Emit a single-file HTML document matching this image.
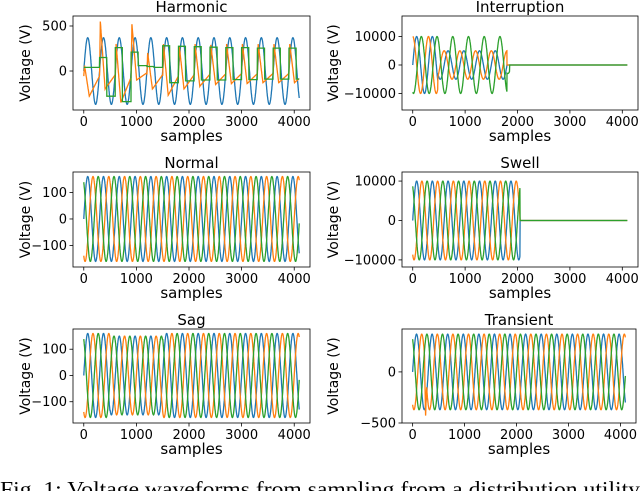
<!DOCTYPE html>
<html><head><meta charset="utf-8">
<style>
html,body{margin:0;padding:0;background:#fff;overflow:hidden;width:640px;height:491px;}
svg{display:block;}
text{font-family:"DejaVu Sans","Liberation Sans",sans-serif;fill:#000;}
.cap{font-family:"Liberation Serif",serif;font-size:21px;}
</style></head>
<body>
<svg id="fig" width="640" height="491" viewBox="0 0 640 491" xmlns="http://www.w3.org/2000/svg">
<text class="cap" x="0" y="496" textLength="640" lengthAdjust="spacingAndGlyphs">Fig. 1: Voltage waveforms from sampling from a distribution utility</text>
</svg>
<script>
// ---- data ----
const panelTitles = ["Harmonic","Interruption","Normal","Swell","Sag","Transient"];
const xTicks = [0,1000,2000,3000,4000];
const nSamples = 4096;
const period = 300;
const yLims = [[-433,611],[-15800,17200],[-181,177],[-11800,12300],[-181,177],[-500,420]];
const yTicks = [[0,500],[-10000,0,10000],[-100,0,100],[-10000,0,10000],[-100,0,100],[-500,0]];
const yTickLabels = [["0","500"],["\u221210000","0","10000"],["\u2212100","0","100"],["\u221210000","0","10000"],["\u2212100","0","100"],["\u2212500","0"]];
// amplitude segments [start, end, amplitude] per series: blue, orange, green
const normalAmps = [[[0,4096,160]],[[0,4096,160]],[[0,4096,160]]];
const sagAmps = [[[0,500,160],[500,1500,150],[1500,4096,160]],[[0,500,160],[500,1500,150],[1500,4096,160]],[[0,500,160],[500,1500,150],[1500,4096,160]]];
const swellAmps = [[[0,2048,10000]],[[0,2048,10000]],[[0,2048,10000]]];
const interAmps = [[[0,480,10000],[480,1800,5000]],[[0,480,10000],[480,1800,5000]],[[0,1800,10000],[1800,1850,3000]]];
const transAmps = [[[0,4096,370]],[[0,4096,370]],[[0,4096,370]]];
const transSpike = [250, -450];
const harmBlueAmp = 370;
// harmonic distorted phases: per cycle high/low levels
const harmGreenHi = [40,150,260,210,50,280,275,270,265,260,260,255,255,255];
const harmGreenLo = [40,-280,-340,60,40,-130,-110,-100,-100,-95,-95,-90,-90,-90];
const harmOrangePk = [60,550,300,520,200,300,280,300,290,300,300,300,300,300];
const harmOrangeLo = [-280,-200,-350,-100,-200,-270,-200,-170,-150,-140,-140,-130,-130,-130];
const colors = ["#1f77b4","#ff7f0e","#2ca02c"];
const phases = [0,-2*Math.PI/3,2*Math.PI/3];
const interPhases = [0,Math.PI/2,-Math.PI/2-0.3];

// ---- layout ----
const boxes = [[73,16,310,110],[402,16,638,110],[73,172,310,267],[402,172,638,267],[73,329,310,423],[402,329,636,423]];
const svg = document.getElementById('fig');
const NS = "http://www.w3.org/2000/svg";
function mk(tag, attrs){const e=document.createElementNS(NS,tag);for(const k in attrs)e.setAttribute(k,attrs[k]);return e;}

function ampAt(segs,t){for(const s of segs){if(t>=s[0]&&t<s[1])return s[2];}return 0;}

function seriesValue(p, si, t){
  const th = 2*Math.PI*t/period + (p===1 ? interPhases[si] : phases[si]);
  if(p===0){
    if(si===0) return harmBlueAmp*Math.sin(th);
    const c = Math.min(Math.floor(t/period), harmGreenHi.length-1);
    const f = (t/period) - Math.floor(t/period);
    if(si===2){ return f<0.45 ? harmGreenHi[c] : harmGreenLo[c]; }
    const pk = harmOrangePk[c], lo = harmOrangeLo[c];
    if(f<0.05) return lo*0.2 + (pk-lo*0.2)*(f/0.05);
    if(f<0.35) return pk + (lo-pk)*((f-0.05)/0.3);
    return lo + (lo*0.2-lo)*((f-0.35)/0.65);
  }
  let segs;
  if(p===1) segs=interAmps[si]; else if(p===2) segs=normalAmps[si];
  else if(p===3) segs=swellAmps[si]; else if(p===4) segs=sagAmps[si]; else segs=transAmps[si];
  let v = ampAt(segs,t)*Math.sin(th);
  if(p===5 && si===1 && Math.abs(t-transSpike[0])<20) v = transSpike[1]*(1-Math.abs(t-transSpike[0])/20) + v*Math.abs(t-transSpike[0])/20;
  return v;
}

for(let p=0;p<6;p++){
  const [x0,y0,x1,y1]=boxes[p];
  const xmin=-0.05*(nSamples-1), xmax=(nSamples-1)*1.05;
  const xs=v=>x0+(v-xmin)/(xmax-xmin)*(x1-x0);
  const ys=v=>y1-(v-yLims[p][0])/(yLims[p][1]-yLims[p][0])*(y1-y0);
  const g=mk('g',{});
  
  
  svg.appendChild(g);
  const cid='clip'+p;
  const cp=mk('clipPath',{id:cid}); cp.appendChild(mk('rect',{x:x0,y:y0,width:x1-x0,height:y1-y0})); g.appendChild(cp);
  for(let si=0;si<3;si++){
    let pts=[];
    for(let t=0;t<nSamples;t+=3){pts.push(xs(t).toFixed(1)+','+ys(seriesValue(p,si,t)).toFixed(1));}
    const pl=mk('polyline',{points:pts.join(' '),fill:'none',stroke:colors[si],'stroke-width':1.3,'clip-path':'url(#'+cid+')'});
    
    
    g.appendChild(pl);
  }
  const fr=mk('rect',{x:x0,y:y0,width:x1-x0,height:y1-y0,fill:'none',stroke:'#000','stroke-width':0.8});
  
  
  g.appendChild(fr);
  for(const xt of xTicks){
    const X=xs(xt);
    g.appendChild(mk('line',{x1:X,x2:X,y1:y1,y2:y1+3.5,stroke:'#000','stroke-width':0.8}));
    const tx=mk('text',{x:X,y:y1+16,'text-anchor':'middle','font-size':13});
    tx.textContent=String(xt);
    
    
    g.appendChild(tx);
  }
  yTicks[p].forEach((yt,i)=>{
    const Y=ys(yt);
    g.appendChild(mk('line',{x1:x0-3.5,x2:x0,y1:Y,y2:Y,stroke:'#000','stroke-width':0.8}));
    const tx=mk('text',{x:x0-6,y:Y+4.5,'text-anchor':'end','font-size':13});
    tx.textContent=yTickLabels[p][i];
    
    
    g.appendChild(tx);
  });
  const tt=mk('text',{x:(x0+x1)/2,y:y0-4,'text-anchor':'middle','font-size':15});
  tt.textContent=panelTitles[p];
  
  
  g.appendChild(tt);
  const xl=mk('text',{x:(x0+x1)/2,y:y1+31,'text-anchor':'middle','font-size':15});
  xl.textContent='samples';
  
  
  g.appendChild(xl);
  const lx = (p%2===0)? 30 : 338;
  const yl=mk('text',{x:lx,y:(y0+y1)/2,'text-anchor':'middle','font-size':14,transform:'rotate(-90 '+lx+' '+((y0+y1)/2)+')'});
  yl.textContent='Voltage (V)';
  
  
  g.appendChild(yl);
}
</script>
</body></html>
